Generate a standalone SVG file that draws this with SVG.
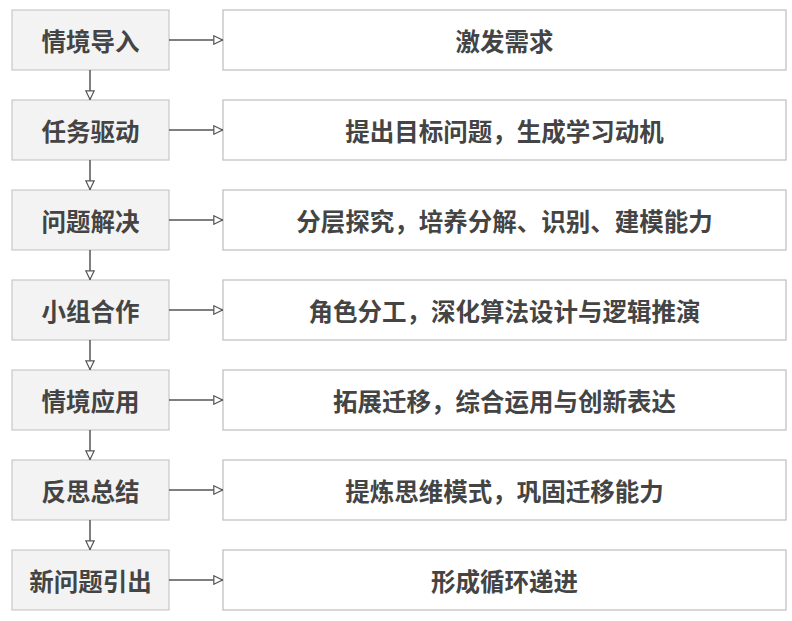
<svg xmlns="http://www.w3.org/2000/svg" width="792" height="621" viewBox="0 0 792 621">
<defs>
<marker id="ah" viewBox="0 0 10 10" refX="10" refY="5" markerWidth="10" markerHeight="10" markerUnits="userSpaceOnUse" orient="auto">
<path d="M0.8,0.8 L9.5,5 L0.8,9.2 Z" fill="#fff" stroke="#555" stroke-width="1.2"/>
</marker>
<style>
.l{fill:#f3f3f3;stroke:#c8c8c8;stroke-width:1.2}
.r{fill:#fff;stroke:#bdbdbd;stroke-width:1.2}
text{font-family:"Noto Sans CJK SC","Noto Sans",sans-serif;font-size:24.5px;font-weight:bold;fill:#444;text-anchor:middle;dominant-baseline:central}
.c{fill:none;stroke:#555;stroke-width:1.5;marker-end:url(#ah)}
</style>
</defs>
<rect width="792" height="621" fill="#fff"/>
<g id="n1"><rect class="l" x="12" y="10" width="157" height="60"/><text x="90.5" y="40">情境导入</text></g>
<g id="n2"><rect class="l" x="12" y="100" width="157" height="60"/><text x="90.5" y="130">任务驱动</text></g>
<g id="n3"><rect class="l" x="12" y="190" width="157" height="60"/><text x="90.5" y="220">问题解决</text></g>
<g id="n4"><rect class="l" x="12" y="280" width="157" height="60"/><text x="90.5" y="310">小组合作</text></g>
<g id="n5"><rect class="l" x="12" y="370" width="157" height="60"/><text x="90.5" y="400">情境应用</text></g>
<g id="n6"><rect class="l" x="12" y="460" width="157" height="60"/><text x="90.5" y="490">反思总结</text></g>
<g id="n7"><rect class="l" x="12" y="550" width="157" height="60"/><text x="90.5" y="580">新问题引出</text></g>
<g id="d1"><rect class="r" x="223" y="10" width="563" height="60"/><text x="504.5" y="40">激发需求</text></g>
<g id="d2"><rect class="r" x="223" y="100" width="563" height="60"/><text x="504.5" y="130">提出目标问题，生成学习动机</text></g>
<g id="d3"><rect class="r" x="223" y="190" width="563" height="60"/><text x="504.5" y="220">分层探究，培养分解、识别、建模能力</text></g>
<g id="d4"><rect class="r" x="223" y="280" width="563" height="60"/><text x="504.5" y="310">角色分工，深化算法设计与逻辑推演</text></g>
<g id="d5"><rect class="r" x="223" y="370" width="563" height="60"/><text x="504.5" y="400">拓展迁移，综合运用与创新表达</text></g>
<g id="d6"><rect class="r" x="223" y="460" width="563" height="60"/><text x="504.5" y="490">提炼思维模式，巩固迁移能力</text></g>
<g id="d7"><rect class="r" x="223" y="550" width="563" height="60"/><text x="504.5" y="580">形成循环递进</text></g>
<g id="connectors">
<path class="c" d="M169,40 H223"/>
<path class="c" d="M169,130 H223"/>
<path class="c" d="M169,220 H223"/>
<path class="c" d="M169,310 H223"/>
<path class="c" d="M169,400 H223"/>
<path class="c" d="M169,490 H223"/>
<path class="c" d="M169,580 H223"/>
<path class="c" d="M90,70 V100"/>
<path class="c" d="M90,160 V190"/>
<path class="c" d="M90,250 V280"/>
<path class="c" d="M90,340 V370"/>
<path class="c" d="M90,430 V460"/>
<path class="c" d="M90,520 V550"/>
</g>
</svg>
